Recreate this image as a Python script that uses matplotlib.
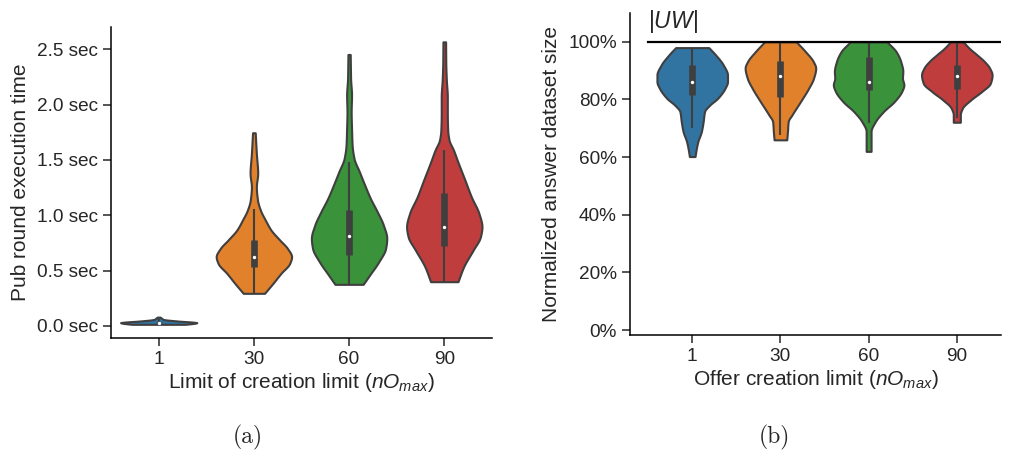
import matplotlib
matplotlib.use("Agg")
import matplotlib.pyplot as plt
import numpy as np
from matplotlib.ticker import PercentFormatter

# categorias (limite nO_max)
categories = ["1", "30", "60", "90"]
colors = ["#3274a1", "#e1812c", "#3a923a", "#c03d3e"]
edge_gray = "#3f3f3f"

# (a) perfil de cada violin: valores (sec) y semi-ancho relativo (1 = ancho maximo)
time_prof_y = [
    [0.015, 0.025, 0.03, 0.035, 0.045, 0.06, 0.08],
    [0.295, 0.385, 0.475, 0.565, 0.626, 0.701, 0.776, 0.866, 0.957, 1.047,
     1.137, 1.257, 1.378, 1.558, 1.745],
    [0.376, 0.46, 0.58, 0.701, 0.791, 0.912, 1.032, 1.152, 1.273, 1.393,
     1.513, 1.634, 1.784, 1.934, 2.085, 2.235, 2.452],
    [0.40, 0.535, 0.686, 0.806, 0.896, 1.017, 1.167, 1.32, 1.47, 1.59,
     1.68, 1.77, 1.92, 2.07, 2.22, 2.37, 2.566],
]
time_prof_w = [
    [0.7, 0.95, 1.0, 0.9, 0.5, 0.12, 0.04],
    [0.28, 0.50, 0.71, 0.94, 0.99, 0.88, 0.68, 0.45, 0.30, 0.17,
     0.095, 0.065, 0.10, 0.065, 0.035],
    [0.37, 0.54, 0.78, 0.96, 0.99, 0.90, 0.74, 0.56, 0.41, 0.27,
     0.13, 0.08, 0.065, 0.055, 0.065, 0.04, 0.03],
    [0.36, 0.51, 0.76, 0.95, 0.99, 0.91, 0.71, 0.54, 0.37, 0.24,
     0.125, 0.09, 0.08, 0.08, 0.055, 0.04, 0.035],
]
# estadisticas del box interno (sec)
time_wlo = [0.015, 0.295, 0.376, 0.40]
time_q1 = [0.025, 0.53, 0.645, 0.72]
time_med = [0.03, 0.625, 0.81, 0.896]
time_q3 = [0.035, 0.78, 1.05, 1.205]
time_whi = [0.06, 1.055, 1.477, 1.59]

# (b) perfil de cada violin: tamano normalizado (fraccion) y semi-ancho relativo
size_prof_y = [
    [0.602, 0.625, 0.654, 0.689, 0.723, 0.758, 0.781, 0.804, 0.839, 0.862,
     0.885, 0.920, 0.955, 0.980],
    [0.660, 0.689, 0.723, 0.747, 0.793, 0.839, 0.874, 0.909, 0.932, 0.966, 1.0],
    [0.620, 0.654, 0.689, 0.723, 0.758, 0.793, 0.828, 0.851, 0.874, 0.897,
     0.932, 0.966, 1.0],
    [0.721, 0.747, 0.770, 0.799, 0.828, 0.856, 0.885, 0.909, 0.932, 0.955,
     0.978, 1.0],
]
size_prof_w = [
    [0.08, 0.11, 0.16, 0.26, 0.31, 0.35, 0.50, 0.72, 0.93, 1.0,
     1.0, 0.88, 0.66, 0.47],
    [0.18, 0.20, 0.22, 0.33, 0.57, 0.80, 0.94, 1.0, 0.93, 0.71, 0.45],
    [0.07, 0.07, 0.07, 0.19, 0.42, 0.73, 0.94, 1.0, 0.96, 0.97,
     0.91, 0.78, 0.52],
    [0.10, 0.10, 0.16, 0.40, 0.71, 0.95, 1.0, 0.93, 0.78, 0.57,
     0.35, 0.18],
]
size_wlo = [0.70, 0.677, 0.718, 0.735]
size_q1 = [0.814, 0.81, 0.833, 0.836]
size_med = [0.86, 0.88, 0.86, 0.88]
size_q3 = [0.92, 0.932, 0.947, 0.92]
size_whi = [0.98, 1.0, 1.0, 1.0]


def smooth_profile(y, w, n=300):
    # curva monotona (tipo pchip) entre los puntos leidos
    y = np.asarray(y, float)
    w = np.asarray(w, float)
    d = np.diff(w) / np.diff(y)
    m = np.zeros_like(w)
    m[0], m[-1] = d[0], d[-1]
    for i in range(1, len(w) - 1):
        if d[i - 1] * d[i] > 0:
            m[i] = 2.0 / (1.0 / d[i - 1] + 1.0 / d[i])
    yy = np.linspace(y[0], y[-1], n)
    idx = np.clip(np.searchsorted(y, yy) - 1, 0, len(y) - 2)
    h = y[idx + 1] - y[idx]
    t = (yy - y[idx]) / h
    ww = ((2 * t**3 - 3 * t**2 + 1) * w[idx] + (t**3 - 2 * t**2 + t) * h * m[idx]
          + (-2 * t**3 + 3 * t**2) * w[idx + 1] + (t**3 - t**2) * h * m[idx + 1])
    return yy, np.clip(ww, 0, None)


def draw_violins(ax, prof_y, prof_w, wlo, q1, med, q3, whi):
    for i in range(len(categories)):
        yy, ww = smooth_profile(prof_y[i], prof_w[i])
        ax.fill_betweenx(yy, i - 0.4 * ww, i + 0.4 * ww, facecolor=colors[i],
                         edgecolor=edge_gray, linewidth=1.5, zorder=2)
        ax.plot([i, i], [wlo[i], whi[i]], color=edge_gray, lw=1.5,
                solid_capstyle="butt", zorder=3)
        ax.plot([i, i], [q1[i], q3[i]], color=edge_gray, lw=4.8,
                solid_capstyle="butt", zorder=3)
        ax.scatter([i], [med[i]], s=6, color="white", zorder=4, linewidths=0)


plt.rcParams["font.family"] = ["Liberation Sans", "DejaVu Sans"]
plt.rcParams["mathtext.fontset"] = "custom"
plt.rcParams["mathtext.it"] = "Liberation Sans:italic"
plt.rcParams["mathtext.rm"] = "Liberation Sans"
plt.rcParams["axes.linewidth"] = 1.1
plt.rcParams["text.color"] = "#262626"
plt.rcParams["axes.labelcolor"] = "#262626"
plt.rcParams["xtick.color"] = "#262626"
plt.rcParams["ytick.color"] = "#262626"

fig = plt.figure(figsize=(10.1, 4.5), dpi=100)
ax1 = fig.add_axes([0.110, 0.249, 0.377, 0.691])
ax2 = fig.add_axes([0.6238, 0.2556, 0.3672, 0.7155])

x = np.arange(len(categories))

# (a) tiempo de ejecucion
draw_violins(ax1, time_prof_y, time_prof_w, time_wlo, time_q1, time_med,
             time_q3, time_whi)
ax1.set_xlim(-0.5, 3.5)
ax1.set_ylim(-0.108, 2.70)
ax1.set_yticks([0, 0.5, 1.0, 1.5, 2.0, 2.5])
ax1.set_yticklabels(["%.1f sec" % v for v in [0, 0.5, 1.0, 1.5, 2.0, 2.5]])
ax1.set_xticks(x)
ax1.set_xticklabels(categories)
ax1.set_ylabel("Pub round execution time", fontsize=15, labelpad=5)
ax1.set_xlabel("Limit of creation limit ($nO_{max}$)", fontsize=15, labelpad=2)

# (b) tamano normalizado
draw_violins(ax2, size_prof_y, size_prof_w, size_wlo, size_q1, size_med,
             size_q3, size_whi)
ax2.plot([-0.5, 3.5], [1.0, 1.0], color="black", lw=1.6, zorder=5)
ax2.text(-0.5, 1.022, "$|UW|$", fontsize=16.5, ha="left", va="bottom")
ax2.set_xlim(-0.705, 3.5)
ax2.set_ylim(-0.017, 1.10)
ax2.set_yticks([0, 0.2, 0.4, 0.6, 0.8, 1.0])
ax2.yaxis.set_major_formatter(PercentFormatter(1.0, decimals=0))
ax2.set_xticks(x)
ax2.set_xticklabels(categories)
ax2.set_ylabel("Normalized answer dataset size", fontsize=15, labelpad=5)
ax2.set_xlabel("Offer creation limit ($nO_{max}$)", fontsize=15, labelpad=2)

for ax in (ax1, ax2):
    ax.spines["top"].set_visible(False)
    ax.spines["right"].set_visible(False)
    ax.tick_params(labelsize=13.7, length=6, width=1.1)

fig.text(0.245, 0.015, "(a)", family="cmr10", fontsize=17, ha="center")
fig.text(0.767, 0.015, "(b)", family="cmr10", fontsize=17, ha="center")

plt.savefig("out.png", dpi=100)
